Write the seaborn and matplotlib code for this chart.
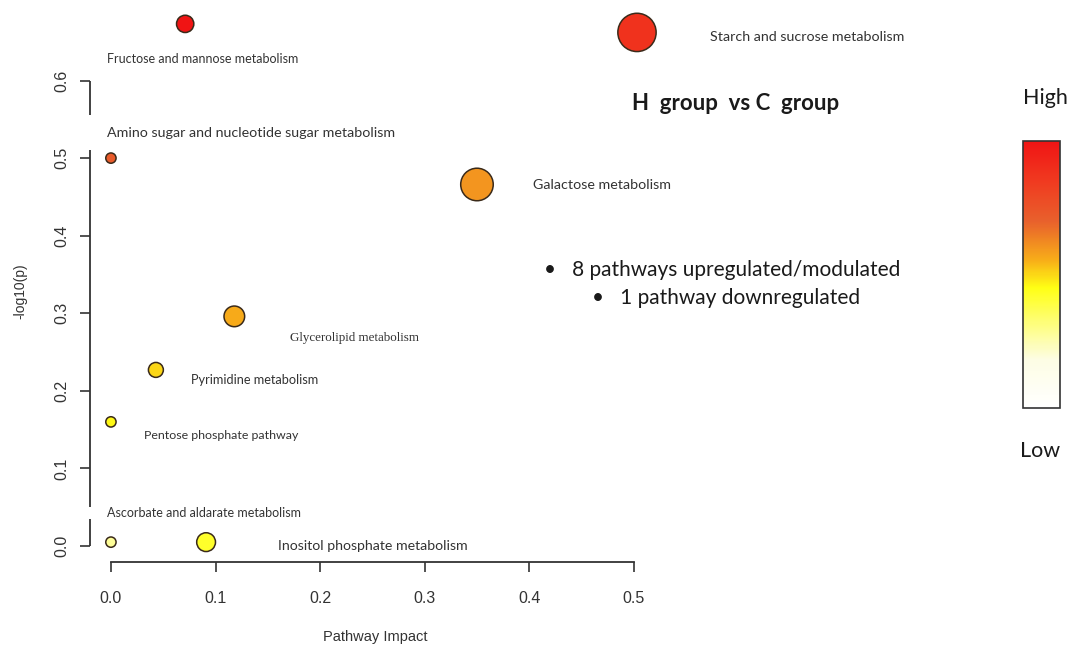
import numpy as np
import pandas as pd
import matplotlib
matplotlib.use("Agg")
import matplotlib.pyplot as plt
import seaborn as sns
from matplotlib.colors import LinearSegmentedColormap
from matplotlib.cm import ScalarMappable
import matplotlib.transforms as mtransforms

# data
pathways = ['Fructose and mannose metabolism', 'Starch and sucrose metabolism',
            'Amino sugar and nucleotide sugar metabolism', 'Galactose metabolism',
            'Glycerolipid metabolism', 'Pyrimidine metabolism',
            'Pentose phosphate pathway', 'Ascorbate and aldarate metabolism',
            'Inositol phosphate metabolism']
impact = [0.071, 0.503, 0.0, 0.350, 0.118, 0.043, 0.0, 0.0, 0.091]
neg_log_p = [0.673, 0.662, 0.500, 0.466, 0.296, 0.227, 0.160, 0.005, 0.005]
colour_score = [1.0, 0.88, 0.72, 0.60, 0.56, 0.50, 0.46, 0.28, 0.42]
x_ticks = [0.0, 0.1, 0.2, 0.3, 0.4, 0.5]
y_ticks = [0.0, 0.1, 0.2, 0.3, 0.4, 0.5, 0.6]

# label placement (data coords, left edge / vertical centre) and font size
label_pos = [(-0.004, 0.628), (0.573, 0.656), (-0.004, 0.532), (0.404, 0.465),
             (0.171, 0.268), (0.077, 0.214), (0.032, 0.143), (-0.004, 0.043),
             (0.160, 0.000)]
label_size = [9.0, 10.3, 10.3, 10.3, 9.4, 9.2, 8.9, 9.0, 10.2]
serif_labels = ['Glycerolipid metabolism']
# pieces of the broken y axis line
y_spine_parts = [(0.555, 0.6), (0.05, 0.51), (0.0, 0.035)]

df = pd.DataFrame({'pathway': pathways, 'impact': impact,
                   'logp': neg_log_p, 'score': colour_score})

cmap = LinearSegmentedColormap.from_list('heat', [
    (0.0, '#ffffff'), (0.18, '#fdfde4'), (0.45, '#ffff14'), (0.55, '#f8b018'),
    (0.70, '#e8602c'), (0.85, '#f03a20'), (1.0, '#f01414')])

sns.set_style('white')
plt.rcParams['font.family'] = ['Liberation Sans', 'DejaVu Sans']
W, H = 1068, 646
fig = plt.figure(figsize=(W / 100, H / 100), dpi=100)

# axes placed so that the spines sit where R puts them
left, right, bottom, top = 90, 660, 562, 20
ax = fig.add_axes([left / W, 1 - bottom / H, (right - left) / W, (bottom - top) / H])
ax.set_xlim(-0.02, 0.525)
ax.set_ylim(-0.0206, 0.678)

sns.scatterplot(data=df, x='impact', y='logp', hue='score', palette=cmap,
                hue_norm=(0, 1), size='impact', sizes=(55, 760), size_norm=(0, 0.5),
                edgecolor='#3a2a1a', linewidth=1.1, legend=False, clip_on=False,
                zorder=3, ax=ax)

for name, (lx, ly), fs in zip(pathways, label_pos, label_size):
    fam = ['Liberation Serif'] if name in serif_labels else ['Lato', 'DejaVu Sans']
    ax.text(lx, ly, name, ha='left', va='center', fontsize=fs, color='#333333',
            family=fam, clip_on=False)

for s in ['top', 'right', 'left']:
    ax.spines[s].set_visible(False)
ax.spines['bottom'].set_bounds(0, 0.5)
ax.spines['bottom'].set_color('#333333')
ax.spines['bottom'].set_linewidth(1.3)
trans = mtransforms.blended_transform_factory(ax.transAxes, ax.transData)
for y0, y1 in y_spine_parts:
    ax.plot([0, 0], [y0, y1], color='#333333', lw=1.3, transform=trans,
            clip_on=False, solid_capstyle='butt')

ax.set_xticks(x_ticks)
ax.set_yticks(y_ticks)
ax.set_xticklabels([f'{v:.1f}' for v in x_ticks])
ax.set_yticklabels([f'{v:.1f}' for v in y_ticks], rotation=90, va='center')
ax.tick_params(axis='both', direction='out', length=7, width=1.2, color='#333333',
               labelsize=11.5, labelcolor='#333333', left=True, bottom=True)
ax.tick_params(axis='x', pad=14)
ax.tick_params(axis='y', pad=8)
ax.set_xlabel('Pathway Impact', fontsize=10.5, color='#333333', labelpad=17)
ax.set_ylabel('-log10(p)', fontsize=10, color='#333333', labelpad=19)
ax.grid(False)

fig.text(736 / W, 1 - 104 / H, 'H  group  vs C  group', ha='center', va='center',
         fontsize=16, fontweight='bold', family=['Lato', 'DejaVu Sans'], color='#1a1a1a')
fig.text(544 / W, 1 - 270 / H, '\u2022   8 pathways upregulated/modulated', ha='left',
         va='center', fontsize=15, family=['Lato', 'DejaVu Sans'], color='#1a1a1a')
fig.text(592 / W, 1 - 298 / H, '\u2022   1 pathway downregulated', ha='left',
         va='center', fontsize=15, family=['Lato', 'DejaVu Sans'], color='#1a1a1a')

# colour key
cax = fig.add_axes([1023 / W, 1 - 408 / H, 37 / W, 267 / H])
cb = fig.colorbar(ScalarMappable(cmap=cmap), cax=cax)
cb.set_ticks([])
cb.outline.set_edgecolor('#333333')
cb.outline.set_linewidth(1.2)
fig.text(1045 / W, 1 - 98 / H, 'High', ha='center', va='center', fontsize=15.5,
         family=['Lato', 'DejaVu Sans'], color='#1a1a1a')
fig.text(1040 / W, 1 - 451 / H, 'Low', ha='center', va='center', fontsize=15.5,
         family=['Lato', 'DejaVu Sans'], color='#1a1a1a')

fig.savefig('out.png', dpi=100)
